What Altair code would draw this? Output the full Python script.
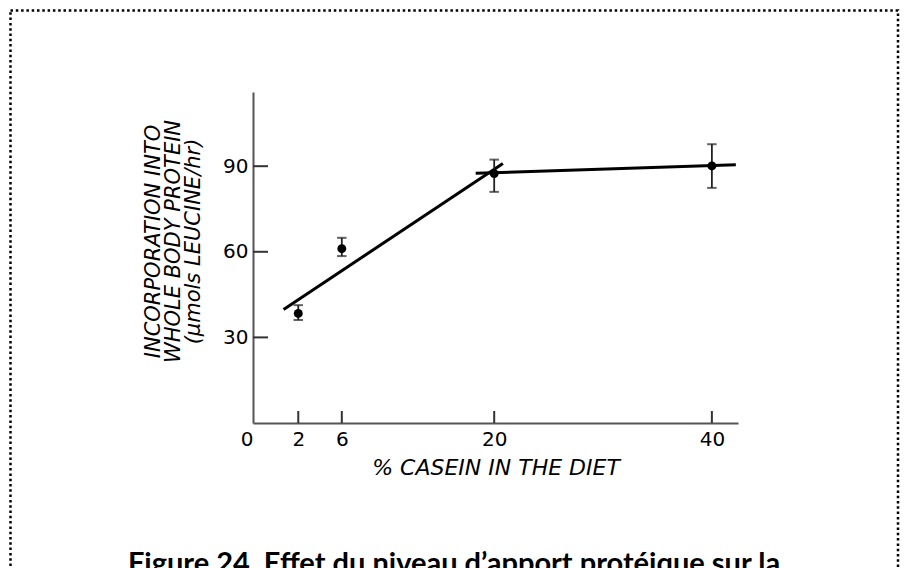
import altair as alt
import pandas as pd

# ---- data ----
casein = [2, 6, 20, 40]
incorporation = [38.4, 61.1, 87.4, 90.1]
err_low = [36.1, 58.5, 81.0, 82.4]
err_high = [41.3, 64.9, 92.3, 97.7]

# two hand-fitted lines (end points)
fit_x = [0.65, 20.8, 18.3, 42.2]
fit_y = [39.8, 90.9, 87.5, 90.5]
fit_seg = ["rise", "rise", "plateau", "plateau"]

x_tick_values = [2, 6, 20, 40]
y_tick_values = [30, 60, 90]
x_domain = [-2.16, 42.4]
y_domain = [0, 116]

y_title = ["INCORPORATION INTO", "WHOLE BODY PROTEIN", "(\u03bcmols LEUCINE/hr)"]
x_title = "% CASEIN IN THE DIET"
caption = "Figure 24. Effet du niveau d\u2019apport prot\u00e9ique sur la"

W, H = 485, 331
FONT = "DejaVu Sans"

pts = pd.DataFrame({"x": casein, "y": incorporation, "lo": err_low, "hi": err_high})
fit = pd.DataFrame({"x": fit_x, "y": fit_y, "seg": fit_seg})
xt = pd.DataFrame({"x": x_tick_values})
yt = pd.DataFrame({"y": y_tick_values})

xscale = alt.Scale(domain=x_domain, nice=False, zero=False)
yscale = alt.Scale(domain=y_domain, nice=False, zero=False)

xaxis = alt.Axis(
    values=[x_domain[0]] + x_tick_values,
    labelExpr="datum.value < 0 ? '0' : datum.label",
    labelAlign={"condition": {"test": "datum.value < 0", "value": "right"}, "value": "center"},
    labelFlush=False,
    ticks=False, tickSize=0, grid=False,
    labelFont=FONT, labelFontSize=20, labelColor="black", labelPadding=6,
    domainColor="#555555", domainWidth=2,
    title=x_title, titleFont=FONT, titleFontSize=22, titleFontStyle="italic",
    titleFontWeight="normal", titleColor="black", titlePadding=8,
)
yaxis = alt.Axis(
    values=y_tick_values,
    ticks=False, tickSize=0, grid=False,
    labelFont=FONT, labelFontSize=20, labelColor="black", labelPadding=5,
    domainColor="#555555", domainWidth=2,
    title=y_title, titleFont=FONT, titleFontSize=21, titleFontStyle="italic",
    titleFontWeight="normal", titleColor="black", titleLineHeight=20,
    titleAngle=-90, titleAlign="center", titleBaseline="top",
    titleX=-111, titleY=149,
)

X = alt.X("x:Q", scale=xscale, axis=xaxis)
Y = alt.Y("y:Q", scale=yscale, axis=yaxis)

lines = alt.Chart(fit).mark_line(color="black", strokeWidth=3).encode(
    x=X, y=Y, detail="seg:N")

bars = alt.Chart(pts).mark_rule(color="#222222", strokeWidth=1.8).encode(
    x=alt.X("x:Q", scale=xscale), y=alt.Y("lo:Q", scale=yscale), y2="hi:Q")

cap_shape = "M-1,0L1,0"
caps_lo = alt.Chart(pts).mark_point(shape=cap_shape, size=90, color="#222222",
                                    strokeWidth=2, filled=False).encode(
    x=alt.X("x:Q", scale=xscale), y=alt.Y("lo:Q", scale=yscale))
caps_hi = alt.Chart(pts).mark_point(shape=cap_shape, size=90, color="#222222",
                                    strokeWidth=2, filled=False).encode(
    x=alt.X("x:Q", scale=xscale), y=alt.Y("hi:Q", scale=yscale))

dots = alt.Chart(pts).mark_circle(color="black", size=80, opacity=1).encode(x=X, y=Y)

xticks = alt.Chart(xt).mark_rule(color="#333333", strokeWidth=2).encode(
    x=alt.X("x:Q", scale=xscale), y=alt.value(H), y2=alt.value(H - 12))
yticks = alt.Chart(yt).mark_rule(color="#333333", strokeWidth=2).encode(
    y=alt.Y("y:Q", scale=yscale), x=alt.value(0), x2=alt.value(15))

one = pd.DataFrame({"k": [0]})
border = alt.Chart(one).mark_rect(filled=False, stroke="black", strokeWidth=2.5,
                                  strokeDash=[2.5, 2.8]).encode(
    x=alt.value(-242.5), x2=alt.value(645), y=alt.value(-81.5), y2=alt.value(700))

cap_text = alt.Chart(one).mark_text(font="Lato", fontSize=29, fontWeight="bold",
                                    color="black", align="center",
                                    baseline="alphabetic").encode(
    x=alt.value(201), y=alt.value(481), text=alt.value(caption))

chart = alt.layer(lines, bars, caps_lo, caps_hi, dots, xticks, yticks, border, cap_text).properties(
    width=W, height=H,
    background="white",
    autosize=alt.AutoSizeParams(type="none"),
    padding={"left": 245, "top": 84, "right": 162, "bottom": 180},
).configure_view(stroke=None, strokeWidth=0)

chart.save("out.html", embed_options={"renderer": "svg", "actions": False})
